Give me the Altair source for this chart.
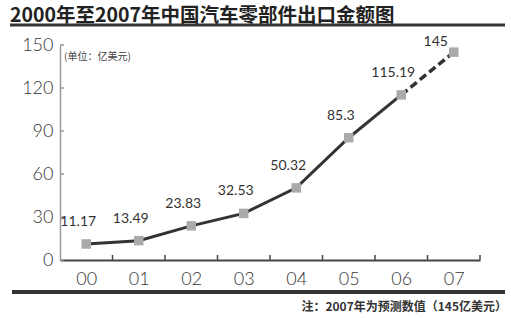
import altair as alt
import pandas as pd

years = ["00", "01", "02", "03", "04", "05", "06", "07"]
values = [11.17, 13.49, 23.83, 32.53, 50.32, 85.3, 115.19, 145]
labels = ["11.17", "13.49", "23.83", "32.53", "50.32", "85.3", "115.19", "145"]
y_ticks = [0, 30, 60, 90, 120, 150]
title_text = "2000年至2007年中国汽车零部件出口金额图"
unit_text = "(单位：亿美元)"
note_text = "注：2007年为预测数值（145亿美元）"

W, H = 420, 215
FONT = "Noto Sans CJK SC"
NUMFONT = "Lato"

df = pd.DataFrame({"i": list(range(len(years))), "year": years, "v": values, "lab": labels})
solid = df[df["i"] <= 6]
dashed = df[df["i"] >= 6]
first_labels = df[df["i"] <= 6]
last_label = df[df["i"] == 7]
tick_df = pd.DataFrame({"t": [i + 0.5 for i in range(len(years))]})
ytick_df = pd.DataFrame({"y": y_ticks})

xscale = alt.Scale(domain=[-0.5, len(years) - 0.5], nice=False, zero=False)
yscale = alt.Scale(domain=[0, 150], nice=False)

label_expr = "[" + ",".join(f"'{y}'" for y in years) + "][datum.value]"

line_solid = alt.Chart(solid).mark_line(color="#333333", strokeWidth=3).encode(
    x=alt.X("i:Q", scale=xscale,
            axis=alt.Axis(values=list(range(len(years))), labelExpr=label_expr, title=None,
                          tickSize=0, grid=False, domainColor="#444444", domainWidth=2,
                          labelFont=NUMFONT, labelFontSize=18, labelColor="#333333",
                          labelFontWeight=300, labelPadding=10)),
    y=alt.Y("v:Q", scale=yscale,
            axis=alt.Axis(values=y_ticks, title=None, tickSize=0, grid=False,
                          domainColor="#999999", domainWidth=1.5,
                          labelFont=NUMFONT, labelFontSize=18, labelColor="#333333",
                          labelFontWeight=300, labelPadding=7)),
)

line_dashed = alt.Chart(dashed).mark_line(color="#333333", strokeWidth=3.5, strokeDash=[8, 4]).encode(
    x=alt.X("i:Q", scale=xscale), y=alt.Y("v:Q", scale=yscale)
)

points = alt.Chart(df).mark_point(shape="square", filled=True, size=90, color="#aaaaaa", opacity=1).encode(
    x=alt.X("i:Q", scale=xscale), y=alt.Y("v:Q", scale=yscale)
)

texts = alt.Chart(first_labels).mark_text(font=NUMFONT, fontSize=14, color="#333333", dx=-8, dy=-22).encode(
    x=alt.X("i:Q", scale=xscale), y=alt.Y("v:Q", scale=yscale), text="lab:N"
)
text_last = alt.Chart(last_label).mark_text(font=NUMFONT, fontSize=14, color="#333333", dx=-18, dy=-10).encode(
    x=alt.X("i:Q", scale=xscale), y=alt.Y("v:Q", scale=yscale), text="lab:N"
)

xticks = alt.Chart(tick_df).mark_rule(color="#444444", strokeWidth=1.5).encode(
    x=alt.X("t:Q", scale=xscale), y=alt.value(H), y2=alt.value(H - 5)
)

yticks = alt.Chart(ytick_df).mark_rule(color="#999999", strokeWidth=1.5).encode(
    y=alt.Y("y:Q", scale=yscale), x=alt.value(0), x2=alt.value(4)
)

one = pd.DataFrame({"a": [0]})

title_mark = alt.Chart(one).mark_text(
    text=title_text, font=FONT, fontSize=19.5, fontWeight="bold", color="#222222",
    align="left", baseline="alphabetic"
).encode(x=alt.value(-50), y=alt.value(-23))

unit_mark = alt.Chart(one).mark_text(
    text=unit_text, font=FONT, fontSize=10, color="#444444", align="left", baseline="middle"
).encode(x=alt.value(4), y=alt.value(12))

note_mark = alt.Chart(one).mark_text(
    text=note_text, font=FONT, fontSize=12, fontWeight="bold", color="#333333",
    align="right", baseline="middle"
).encode(x=alt.value(447), y=alt.value(262))

top_rule = alt.Chart(one).mark_rule(color="#333333", strokeWidth=3).encode(
    x=alt.value(-50), x2=alt.value(445), y=alt.value(-20)
)
bottom_rule = alt.Chart(one).mark_rule(color="#333333", strokeWidth=4).encode(
    x=alt.value(-48), x2=alt.value(445), y=alt.value(247)
)

chart = alt.layer(
    line_solid, line_dashed, xticks, yticks, points, texts, text_last,
    title_mark, unit_mark, note_mark, top_rule, bottom_rule
).properties(
    width=W, height=H,
    autosize=alt.AutoSizeParams(type="none"),
    padding={"left": 60, "top": 45, "right": 31, "bottom": 58},
    background="white",
).configure_view(stroke=None)

chart.save("out.html", embed_options={"renderer": "svg", "actions": False})
